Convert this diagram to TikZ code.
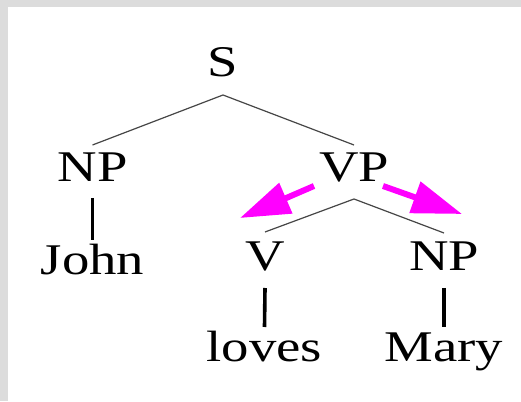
\documentclass[tikz,border=0pt]{standalone}
\usepackage{fontspec}
\usetikzlibrary{arrows.meta,calc}
\newfontfamily\treefont[FakeStretch=1.25]{Liberation Serif}
\definecolor{framegray}{RGB}{220,220,220}
\definecolor{branchgray}{RGB}{70,70,70}
\definecolor{pointer}{RGB}{255,0,255}
\begin{document}
\begin{tikzpicture}[x=1pt,y=1pt,
  label/.style={inner sep=0pt,anchor=base,font=\treefont\fontsize{43.8}{50}\selectfont},
  branch/.style={draw=branchgray,line width=1.2pt},
  stem/.style={draw=black,line width=3.6pt},
  pointerarrow/.style={draw=pointer,line width=6pt,
    -{Triangle[length=50pt,width=32pt,fill=pointer]}}]
  % frame: grey margin on the top and left, white sheet elsewhere
  \useasboundingbox (0,0) rectangle (521,401);
  \fill[framegray] (0,0) rectangle (521,401);
  \fill[white] (8,0) rectangle (521,394);

  % tree labels
  \node[label] (S)    at (223,324) {S};
  \node[label] (NP1)  at (92.5,219) {NP};
  \node[label] (VP)   at (354,219) {VP};
  \node[label] (John) at (92.5,126) {John};
  \node[label] (V)    at (265,130) {V};
  \node[label] (NP2)  at (444,130) {NP};
  \node[label] (loves) at (264.5,39) {loves};
  \node[label] (Mary) at (444,39) {Mary};

  % branches
  \draw[branch] ([yshift=37pt]NP1.base) -- ([yshift=-18pt]S.base) -- ([yshift=37pt]VP.base);
  \draw[branch] ([yshift=39pt]V.base) -- ([yshift=-17pt]VP.base) -- ([yshift=38pt]NP2.base);
  \draw[stem] ([yshift=-16pt]NP1.base) -- ([yshift=35pt]John.base);
  \draw[stem] ([yshift=-17pt]V.base) -- ([yshift=35pt]loves.base);
  \draw[stem] ([yshift=-17pt]NP2.base) -- ([yshift=35pt]Mary.base);

  % pointers from VP towards its daughters
  \coordinate (lstart) at ($(VP.base)+(-40,-4)$);
  \coordinate (ltip)   at ($(VP.base)+(-114,-36)$);
  \coordinate (rstart) at ($(VP.base)+(29,-4)$);
  \coordinate (rtip)   at ($(VP.base)+(108,-32)$);
  \draw[pointerarrow] (lstart) -- (ltip);
  \draw[pointerarrow] (rstart) -- (rtip);
\end{tikzpicture}
\end{document}
